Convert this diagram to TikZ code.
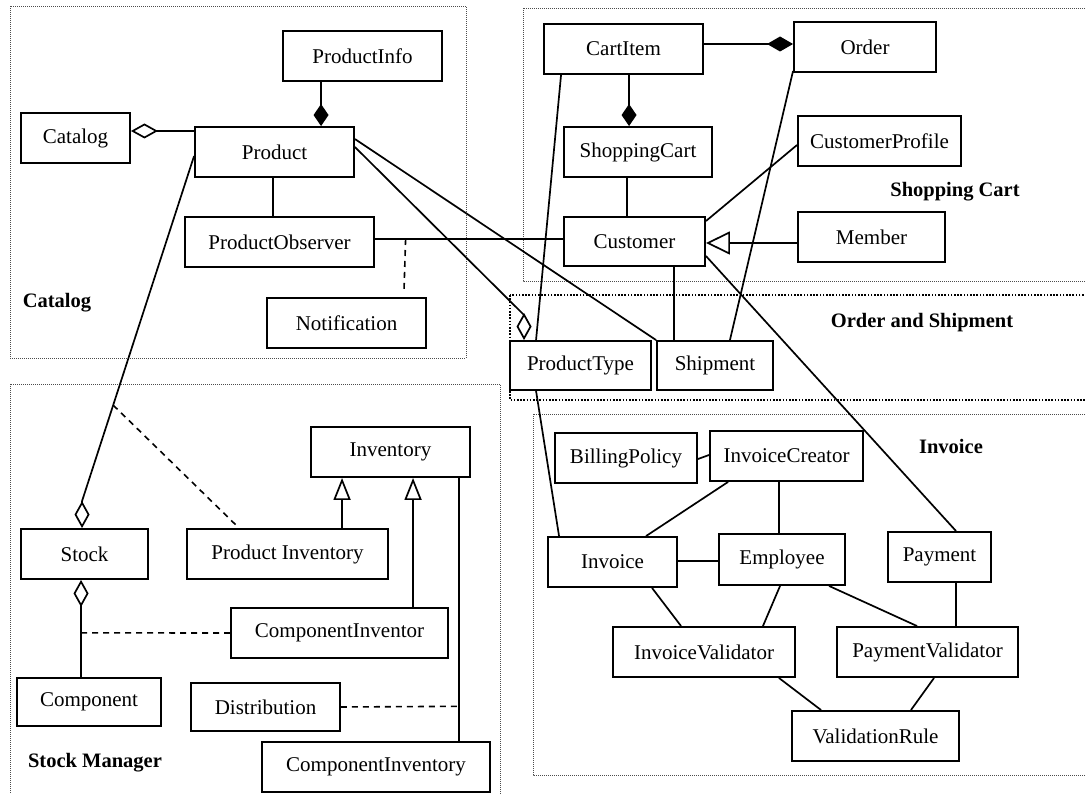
\documentclass[tikz,border=0pt]{standalone}
\usepackage{fontspec}
\setmainfont{Liberation Serif}
\usetikzlibrary{arrows.meta}
\begin{document}
\begin{tikzpicture}[x=1pt,y=-1pt,
  box/.style={draw, line width=1.9pt, fill=white, inner sep=0pt,
    font=\fontsize{21}{25}\selectfont, minimum height=50pt},
  conn/.style={line width=1.7pt},
  dconn/.style={line width=1.6pt, dash pattern=on 6pt off 5pt},
  region/.style={draw=black!70, line width=0.8pt, dash pattern=on 1pt off 1pt},
  heavyregion/.style={draw=black, line width=1.6pt, dash pattern=on 1.6pt off 1.6pt},
  grouplabel/.style={font=\bfseries\fontsize{20.5}{25}\selectfont, inner sep=0pt},
  compend/.style={-{Diamond[length=22pt,width=15pt]}},
  aggstart/.style={{Diamond[length=27pt,width=15pt,fill=white]}-},
  inhend/.style={-{Triangle[length=24pt,width=23pt,fill=white]}},
  inhsmall/.style={-{Triangle[length=22pt,width=17pt,fill=white]}}
]
\useasboundingbox (0,0) rectangle (1085,794);
\clip (0,0) rectangle (1085,794);

% regions
\draw[region] (10,6) rectangle (466,358);
\draw[region] (523,8) rectangle (1095,281);
\draw[heavyregion] (510,295) rectangle (1095,400);
\draw[region] (10,384) rectangle (500,805);
\draw[region] (533,414) rectangle (1095,775);

\node[grouplabel] (lCatalog) at (57,303) {Catalog};
\node[grouplabel] (lShop) at (955,192) {Shopping Cart};
\node[grouplabel] (lOrder) at (922,323) {Order and Shipment};
\node[grouplabel] (lInvoice) at (951,446) {Invoice};
\node[grouplabel] (lStock) at (95,763) {Stock Manager};

% Catalog
\node[box, minimum width=159pt] (PInfo) at (362.5,56) {ProductInfo};
\node[box, minimum width=109pt] (CatalogBox) at (75.5,138) {Catalog};
\node[box, minimum width=159pt] (Product) at (274.5,152) {Product};
\node[box, minimum width=189pt] (PObs) at (279.5,242) {ProductObserver};
\node[box, minimum width=159pt] (Notif) at (346.5,323) {Notification};

% Shopping cart
\node[box, minimum width=159pt] (CartItem) at (623.5,49) {CartItem};
\node[box, minimum width=142pt] (Order) at (865,47) {Order};
\node[box, minimum width=148pt] (SCart) at (638,152) {ShoppingCart};
\node[box, minimum width=163pt] (CProf) at (879.5,141) {CustomerProfile};
\node[box, minimum width=141pt, minimum height=49pt] (Customer) at (634.5,241.5) {Customer};
\node[box, minimum width=147pt] (Member) at (871.5,237) {Member};

% Order and shipment
\node[box, minimum width=141pt, minimum height=49pt] (PType) at (580.5,365.5) {ProductType};
\node[box, minimum width=116pt, minimum height=49pt] (Shipment) at (715,365.5) {Shipment};

% Invoice
\node[box, minimum width=142pt] (Billing) at (626,458) {BillingPolicy};
\node[box, minimum width=153pt] (ICreator) at (786.5,456) {InvoiceCreator};
\node[box, minimum width=129pt] (Invoice) at (612.5,562) {Invoice};
\node[box, minimum width=126pt, minimum height=51pt] (Employee) at (782,559.5) {Employee};
\node[box, minimum width=103pt] (Payment) at (939.5,557) {Payment};
\node[box, minimum width=182pt] (IValid) at (704,652) {InvoiceValidator};
\node[box, minimum width=181pt] (PValid) at (927.5,652) {PaymentValidator};
\node[box, minimum width=167pt] (VRule) at (875.5,736) {ValidationRule};

% Stock manager
\node[box, minimum width=159pt] (Inventory) at (390.5,452) {Inventory};
\node[box, minimum width=127pt] (Stock) at (84.5,554) {Stock};
\node[box, minimum width=201pt] (PInv) at (287.5,554) {Product Inventory};
\node[box, minimum width=217pt] (CInvOr) at (339.5,633) {ComponentInventor};
\node[box, minimum width=144pt, minimum height=48pt] (Component) at (89,702) {Component};
\node[box, minimum width=149pt, minimum height=48pt] (Distrib) at (265.5,707) {Distribution};
\node[box, minimum width=228pt] (CInvy) at (376,767) {ComponentInventory};

% ---- connectors: Catalog
\draw[conn, compend] ([xshift=39pt]PInfo.south west) -- ([xshift=127pt]Product.north west);
\draw[conn, aggstart] ([yshift=7pt]CatalogBox.east) -- ([yshift=21pt]Product.west);
\draw[conn] ([xshift=79pt]Product.south west) -- ([xshift=89pt]PObs.north west);
\draw[conn] ([yshift=3pt]PObs.east) -- coordinate[pos=0.163] (obsN) ([yshift=2.5pt]Customer.west);
\draw[dconn] (obsN) -- ([xshift=138pt,yshift=8pt]Notif.north west);
\draw[conn] ([yshift=-13pt]Product.north east) -- (Shipment.north west);
\draw[conn, aggstart] ([xshift=15pt]PType.north west) -- ++(0,-25) -- ([yshift=-21pt]Product.north east);
\draw[conn, aggstart] ([xshift=62pt]Stock.north west) -- ++(0,-27)
   -- coordinate[pos=0.278] (stockA) ([yshift=-30pt]Product.north west);
\draw[dconn] (stockA) -- ([xshift=53pt]PInv.north west);

% ---- Shopping cart
\draw[conn, -{Diamond[length=26pt,width=15pt]}] ([yshift=5pt]CartItem.east) -- ([yshift=3pt]Order.west);
\draw[conn, compend] ([xshift=86pt]CartItem.south west) -- ([xshift=66pt]SCart.north west);
\draw[conn] ([xshift=64pt]SCart.south west) -- ([xshift=64pt]Customer.north west);
\draw[conn] ([yshift=-4pt]CProf.west) -- ([yshift=-5pt]Customer.north east);
\draw[conn, inhend] ([yshift=-6pt]Member.west) -- ([yshift=-1.5pt]Customer.east);
\draw[conn] ([xshift=111pt]Customer.south west) -- ([xshift=18pt]Shipment.north west);
\draw[conn] ([xshift=18pt]CartItem.south west) -- ([xshift=27pt]PType.north west);
\draw[conn] ([yshift=2pt]Order.south west) -- ([xshift=-44pt]Shipment.north east);
\draw[conn] ([yshift=-14.5pt]Customer.east) -- ([xshift=69pt]Payment.north west);

% ---- Invoice
\draw[conn] ([xshift=27pt]PType.south west) -- ([xshift=12pt]Invoice.north west);
\draw[conn] ([yshift=-1pt]Billing.east) -- ([yshift=1pt]ICreator.west);
\draw[conn] ([xshift=19pt]ICreator.south west) -- ([xshift=99pt]Invoice.north west);
\draw[conn] ([xshift=70pt]ICreator.south west) -- ([xshift=61pt]Employee.north west);
\draw[conn] ([yshift=1pt]Invoice.east) -- ([yshift=-1.5pt]Employee.west);
\draw[conn] ([xshift=105pt]Invoice.south west) -- ([xshift=69pt]IValid.north west);
\draw[conn] ([xshift=62pt]Employee.south west) -- ([xshift=-33pt]IValid.north east);
\draw[conn] ([xshift=111pt]Employee.south west) -- ([xshift=81pt]PValid.north west);
\draw[conn] ([xshift=69pt]Payment.south west) -- ([xshift=120pt]PValid.north west);
\draw[conn] ([xshift=-17pt]IValid.south east) -- ([xshift=30pt]VRule.north west);
\draw[conn] ([xshift=98pt]PValid.south west) -- ([xshift=-49pt]VRule.north east);

% ---- Stock manager
\draw[conn, inhsmall] ([xshift=156pt]PInv.north west) -- ([xshift=32pt]Inventory.south west);
\draw[conn, inhsmall] ([xshift=183pt]CInvOr.north west) -- ([xshift=103pt]Inventory.south west);
\draw[conn] ([xshift=-12pt]Inventory.south east) -- coordinate[pos=0.868] (invD) ([xshift=-32pt]CInvy.north east);
\draw[dconn] (Distrib.east) -- (invD);
\draw[conn, aggstart] ([xshift=61pt]Stock.south west) -- coordinate[pos=0.545] (stockC) ([xshift=65pt]Component.north west);
\draw[dconn] (stockC) -- ([yshift=0pt]CInvOr.west);
\end{tikzpicture}
\end{document}
